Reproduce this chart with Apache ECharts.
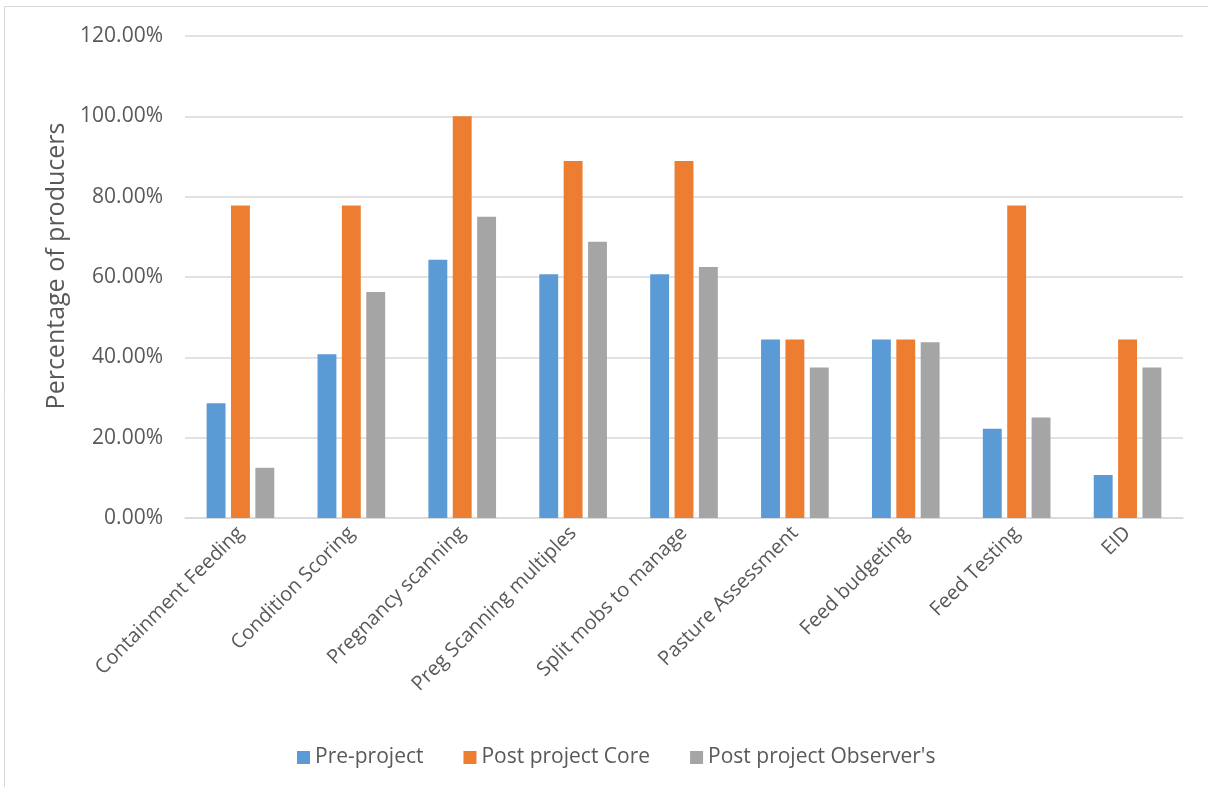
<!DOCTYPE html>
<html>
<head>
<meta charset="utf-8">
<title>Adoption of practices</title>
<script src="https://cdn.jsdelivr.net/npm/echarts@6/dist/echarts.min.js"></script>
<style>
  html, body { margin: 0; padding: 0; background: #ffffff; }
  #chart { width: 1208px; height: 787px; }
</style>
</head>
<body>
<div id="chart"></div>
<script>
// Practices surveyed
const categories = [
  'Containment Feeding', 'Condition Scoring', 'Pregnancy scanning',
  'Preg Scanning multiples', 'Split mobs to manage', 'Pasture Assessment',
  'Feed budgeting', 'Feed Testing', 'EID'
];

// Percentage of producers using each practice
const preProject      = [28.57, 40.74, 64.29, 60.71, 60.71, 44.44, 44.44, 22.22, 10.71];
const postCore        = [77.78, 77.78, 100.0, 88.89, 88.89, 44.44, 44.44, 77.78, 44.44];
const postObservers   = [12.5, 56.25, 75.0, 68.75, 62.5, 37.5, 43.75, 25.0, 37.5];

const seriesNames = ['Pre-project', 'Post project Core', "Post project Observer's"];
const seriesColors = ['#5B9BD5', '#ED7D31', '#A5A5A5'];

const yTitle = 'Percentage of producers';
const yMin = 0, yMax = 120, yStep = 20;

const FONT = '"Open Sans", "Liberation Sans", sans-serif';
const TEXT = '#595959';

const chart = echarts.init(document.getElementById('chart'), null, { renderer: 'canvas' });

const seriesData = [preProject, postCore, postObservers];

chart.setOption({
  backgroundColor: '#ffffff',
  animation: false,
  textStyle: { fontFamily: FONT, color: TEXT },
  graphic: [
    // chart frame (top and left edges)
    { type: 'line', shape: { x1: 4.5, y1: 6.5, x2: 1208, y2: 6.5 }, style: { stroke: '#D9D9D9', lineWidth: 1 } },
    { type: 'line', shape: { x1: 4.5, y1: 6.5, x2: 4.5, y2: 787 }, style: { stroke: '#D9D9D9', lineWidth: 1 } },
    // vertical axis title
    {
      type: 'text',
      x: 57, y: 266,
      rotation: Math.PI / 2,
      style: {
        text: yTitle,
        fontFamily: FONT, fontSize: 25, fill: TEXT,
        align: 'center', verticalAlign: 'middle'
      }
    }
  ],
  grid: { left: 185, right: 25, top: 36, bottom: 269, containLabel: false },
  legend: {
    bottom: 14,
    left: 292,
    itemWidth: 13,
    itemHeight: 13,
    itemGap: 40,
    icon: 'rect',
    textStyle: { fontFamily: FONT, fontSize: 21, color: TEXT, padding: [0, 0, 0, 0] },
    data: seriesNames
  },
  xAxis: {
    type: 'category',
    data: categories,
    axisLine: { show: true, lineStyle: { color: '#D9D9D9', width: 1.5 } },
    axisTick: { show: false },
    axisLabel: {
      interval: 0,
      rotate: 45,
      margin: 12,
      fontFamily: FONT,
      fontSize: 20,
      color: TEXT
    }
  },
  yAxis: {
    type: 'value',
    min: yMin,
    max: yMax,
    interval: yStep,
    axisLine: { show: false },
    axisTick: { show: false },
    axisLabel: {
      margin: 22,
      fontFamily: FONT,
      fontSize: 21,
      color: TEXT,
      formatter: v => v.toFixed(2) + '%'
    },
    splitLine: { lineStyle: { color: '#D9D9D9', width: 1.5 } }
  },
  series: seriesNames.map((name, i) => ({
    name,
    type: 'bar',
    data: seriesData[i],
    barGap: '29%',
    barCategoryGap: '39%',
    itemStyle: { color: seriesColors[i] }
  }))
});
</script>
</body>
</html>
